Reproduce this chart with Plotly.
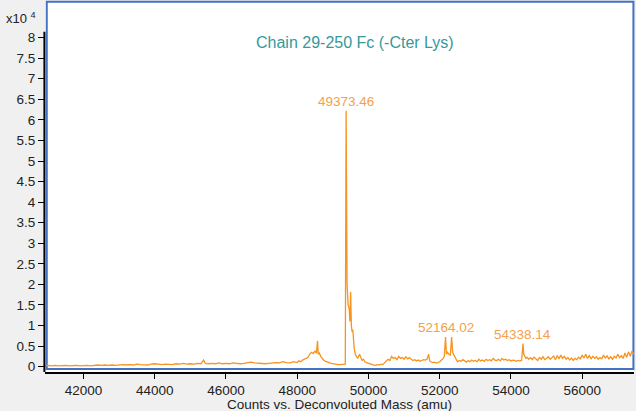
import plotly.graph_objects as go

# ---- data (intensity in units of 10^4 counts) ----
mass = [
    40900, 41000, 41100, 41200, 41300, 41400, 41500, 41600, 41700, 41800,
    41900, 42000, 42100, 42200, 42300, 42400, 42500, 42600, 42700, 42800,
    42900, 43000, 43100, 43200, 43300, 43400, 43500, 43600, 43700, 43800,
    43900, 44000, 44100, 44200, 44300, 44400, 44500, 44600, 44700, 44800,
    44900, 45000, 45100, 45200, 45300, 45370, 45420, 45500, 45600, 45700,
    45800, 45900, 46000, 46100, 46200, 46300, 46400, 46500, 46600, 46700,
    46800, 46900, 47000, 47100, 47200, 47300, 47400, 47500, 47600, 47700,
    47800, 47900, 48000, 48050, 48100, 48150, 48200, 48250, 48300, 48350,
    48400, 48450, 48500, 48540, 48570, 48590, 48620, 48660, 48700, 48750,
    48800, 48850, 48900, 48950, 49000, 49050, 49100, 49150, 49200, 49250,
    49300, 49350, 49373, 49385, 49400, 49430, 49460, 49480, 49500, 49520,
    49540, 49560, 49580, 49600, 49630, 49660, 49700, 49750, 49780, 49820,
    49860, 49900, 49950, 50000, 50050, 50100, 50150, 50200, 50250, 50300,
    50350, 50400, 50450, 50500, 50550, 50600, 50650, 50700, 50750, 50800,
    50850, 50900, 50950, 51000, 51050, 51100, 51150, 51200, 51250, 51300,
    51350, 51400, 51450, 51500, 51550, 51600, 51650, 51690, 51720, 51750,
    51800, 51850, 51900, 51950, 52000, 52050, 52100, 52130, 52164, 52190,
    52220, 52260, 52300, 52335, 52365, 52400, 52450, 52500, 52550, 52600,
    52650, 52700, 52750, 52800, 52850, 52900, 52950, 53000, 53050, 53100,
    53150, 53200, 53250, 53300, 53350, 53400, 53450, 53500, 53550, 53600,
    53650, 53700, 53750, 53800, 53850, 53900, 53950, 54000, 54050, 54100,
    54150, 54200, 54250, 54300, 54338, 54360, 54390, 54420, 54450, 54500,
    54550, 54600, 54650, 54700, 54750, 54800, 54850, 54900, 54950, 55000,
    55050, 55100, 55150, 55200, 55250, 55300, 55350, 55400, 55450, 55500,
    55550, 55600, 55650, 55700, 55750, 55800, 55850, 55900, 55950, 56000,
    56050, 56100, 56150, 56200, 56250, 56300, 56350, 56400, 56450, 56500,
    56550, 56600, 56650, 56700, 56750, 56800, 56850, 56900, 56950, 57000,
    57050, 57100, 57150, 57200, 57250, 57300, 57350, 57400, 57450,
]
intensity_e4 = [
    0.02, 0.03, 0.02, 0.03, 0.02, 0.03, 0.03, 0.02, 0.03, 0.03,
    0.02, 0.03, 0.03, 0.02, 0.03, 0.04, 0.03, 0.04, 0.03, 0.04,
    0.03, 0.04, 0.05, 0.04, 0.05, 0.04, 0.06, 0.05, 0.05, 0.04,
    0.06, 0.07, 0.06, 0.05, 0.06, 0.06, 0.05, 0.07, 0.06, 0.08,
    0.06, 0.07, 0.06, 0.08, 0.07, 0.16, 0.08, 0.07, 0.08, 0.07,
    0.09, 0.07, 0.08, 0.07, 0.09, 0.08, 0.07, 0.08, 0.10, 0.11,
    0.09, 0.08, 0.08, 0.07, 0.08, 0.09, 0.10, 0.09, 0.12, 0.10,
    0.09, 0.12, 0.10, 0.14, 0.12, 0.16, 0.18, 0.20, 0.22, 0.30,
    0.35, 0.32, 0.38, 0.33, 0.63, 0.30, 0.33, 0.25, 0.20, 0.15,
    0.13, 0.12, 0.10, 0.08, 0.07, 0.06, 0.06, 0.05, 0.05, 0.05,
    0.05, 0.06, 6.22, 2.20, 2.00, 1.50, 1.40, 1.10, 1.82, 1.00,
    0.85, 0.90, 0.60, 0.45, 0.30, 0.25, 0.20, 0.30, 0.22, 0.15,
    0.18, 0.12, 0.10, 0.08, 0.06, 0.04, 0.04, 0.03, 0.05, 0.04,
    0.06, 0.05, 0.10, 0.14, 0.18, 0.15, 0.25, 0.20, 0.22, 0.17,
    0.25, 0.20, 0.22, 0.18, 0.24, 0.19, 0.22, 0.18, 0.15, 0.17,
    0.14, 0.16, 0.13, 0.15, 0.17, 0.16, 0.19, 0.30, 0.14, 0.12,
    0.10, 0.11, 0.09, 0.10, 0.12, 0.16, 0.20, 0.25, 0.72, 0.30,
    0.35, 0.30, 0.28, 0.72, 0.35, 0.28, 0.20, 0.12, 0.15, 0.13,
    0.17, 0.14, 0.11, 0.15, 0.12, 0.16, 0.13, 0.15, 0.12, 0.18,
    0.14, 0.16, 0.13, 0.18, 0.15, 0.17, 0.14, 0.20, 0.16, 0.15,
    0.18, 0.14, 0.20, 0.16, 0.18, 0.15, 0.17, 0.14, 0.16, 0.15,
    0.13, 0.15, 0.14, 0.15, 0.56, 0.30, 0.25, 0.20, 0.23, 0.18,
    0.22, 0.17, 0.23, 0.19, 0.15, 0.22, 0.18, 0.24, 0.17, 0.20,
    0.24, 0.18, 0.21, 0.26, 0.17, 0.27, 0.19, 0.28, 0.20, 0.25,
    0.18, 0.22, 0.16, 0.21, 0.15, 0.20, 0.17, 0.23, 0.19, 0.28,
    0.21, 0.30, 0.20, 0.27, 0.19, 0.25, 0.20, 0.24, 0.18, 0.22,
    0.19, 0.28, 0.21, 0.26, 0.19, 0.24, 0.18, 0.25, 0.21, 0.30,
    0.22, 0.27, 0.20, 0.33, 0.23, 0.36, 0.25, 0.38, 0.30,
]

peak_masses = [49373, 52164, 54338]
peak_heights_e4 = [6.22, 0.72, 0.56]
peak_labels = ["49373.46", "52164.02", "54338.14"]

x_tickvals = [42000, 44000, 46000, 48000, 50000, 52000, 54000, 56000]
x_ticktext = ["42000", "44000", "46000", "48000", "50000", "52000", "54000", "56000"]
y_tickvals = [0, 0.5, 1, 1.5, 2, 2.5, 3, 3.5, 4, 4.5, 5, 5.5, 6, 6.5, 7, 7.5, 8]
y_ticktext = ["0", "0.5", "1", "1.5", "2", "2.5", "3", "3.5", "4", "4.5",
              "5", "5.5", "6", "6.5", "7", "7.5", "8"]

title_text = "Chain 29-250 Fc (-Cter Lys)"
x_title = "Counts vs. Deconvoluted Mass (amu)"
y_scale_label = "x10 <sup>4</sup>"

FONT = "Liberation Sans, Arial, sans-serif"
LINE_ORANGE = "#F7931E"
LABEL_ORANGE = "#F5A04C"
TEAL = "#35999B"
BLUE = "#4472C4"
TEXT = "#222222"

fig = go.Figure()
fig.add_trace(go.Scatter(
    x=mass, y=intensity_e4, mode="lines",
    line=dict(color=LINE_ORANGE, width=1.3),
    hoverinfo="skip", showlegend=False,
))

for m, h, t in zip(peak_masses, peak_heights_e4, peak_labels):
    fig.add_annotation(x=m, y=h, text=t, showarrow=False, xanchor="center",
                       yanchor="bottom", yshift=0,
                       font=dict(family=FONT, size=13.5, color=LABEL_ORANGE))

# chart title inside plot
fig.add_annotation(x=0.5255, y=0.887, xref="paper", yref="paper", text=title_text,
                   showarrow=False, xanchor="center", yanchor="middle",
                   font=dict(family=FONT, size=16, color=TEAL))

# x axis title
fig.add_annotation(x=0.5, y=-0.088, xref="paper", yref="paper", text=x_title,
                   showarrow=False, xanchor="center", yanchor="middle",
                   font=dict(family=FONT, size=13.5, color=TEXT))

# scale label
fig.add_annotation(x=-0.069, y=0.953, xref="paper", yref="paper", text=y_scale_label,
                   showarrow=False, xanchor="left", yanchor="middle",
                   font=dict(family=FONT, size=13, color=TEXT))

# frame
fig.add_shape(type="rect", xref="paper", yref="paper", x0=0.003, x1=0.999,
              y0=0.008, y1=0.998, line=dict(color=BLUE, width=2), layer="below")
# left axis line
fig.add_shape(type="line", xref="paper", yref="y", x0=-0.001, x1=-0.001,
              y0=-0.13, y1=8.14, line=dict(color="black", width=2))

fig.update_layout(
    width=636, height=411,
    margin=dict(l=45, r=2, t=1, b=39, autoexpand=False),
    paper_bgcolor="#F0F0F0", plot_bgcolor="white",
    font=dict(family=FONT, size=13.5, color=TEXT),
    xaxis=dict(range=[40920, 57455], tickvals=x_tickvals, ticktext=x_ticktext,
               showline=True, linecolor="black", linewidth=2, ticks="outside",
               ticklen=5, tickcolor="black", showgrid=False, zeroline=False,
               automargin=False,
               tickfont=dict(family=FONT, size=13.5, color=TEXT)),
    yaxis=dict(range=[-0.13, 8.89], tickvals=y_tickvals, ticktext=y_ticktext,
               showline=False, ticks="outside", ticklen=6, tickcolor="black",
               showgrid=False, zeroline=False, automargin=False,
               tickfont=dict(family=FONT, size=13.5, color=TEXT)),
)

fig.write_html("out.html", config={"displayModeBar": False},
               post_script="document.body.style.margin='0';document.body.style.background='#F0F0F0';")
